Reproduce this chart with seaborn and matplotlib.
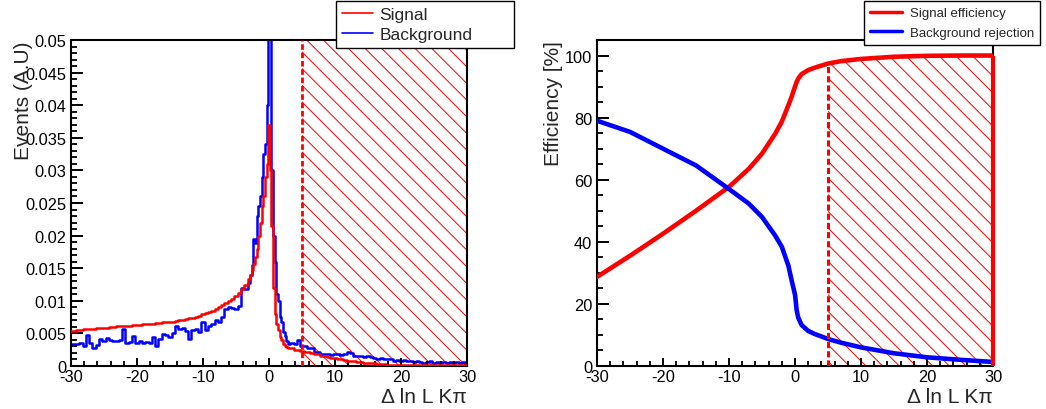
import numpy as np
import seaborn as sns
import matplotlib.pyplot as plt
from matplotlib.ticker import MultipleLocator, FuncFormatter
from matplotlib.lines import Line2D

# histogram bin centres (finer binning around the peak)
dll_bins = np.concatenate([np.arange(-30, -2.9, 0.5),
                           np.arange(-2.75, 2.8, 0.25),
                           np.arange(3, 30.1, 0.5)])

sig_hist = [
    .0054, .0054, .0055, .0055, .0056, .0056, .0057, .0057, .0058, .0058,
    .0059, .0059, .0060, .0060, .0061, .0061, .0062, .0062, .0062, .0063,
    .0063, .0063, .0064, .0064, .0065, .0065, .0066, .0066, .0067, .0067,
    .0068, .0068, .0069, .0070, .0071, .0072, .0073, .0074, .0075, .0077,
    .0079, .0081, .0083, .0085, .0087, .0090, .0093, .0096, .0099, .0103,
    .0107, .0112, .0118, .0125, .0133,
    .0140, .0148, .0157, .0167, .0180, .0200, .0220, .0245, .0260, .0290, .0310,
    .0370,
    .0300, .0215, .0120, .0080, .0065, .0055, .0045, .0040, .0034, .0031, .0029,
    .0028, .0027, .0025, .0024, .0023, .0022, .0021, .0020, .0019, .0018,
    .0016, .0015, .0014, .0013, .0012, .0011, .0010, .0009, .0008, .0008,
    .0007, .0006, .0006, .0005, .0005, .0004, .0004, .0003, .0003, .0003,
    .0002, .0002, .0002, .0002, .0001, .0001, .0001, .0001, .0001, .0001,
    .0001, .0001, .0001, .0001, .0001, .0001, .0001, .0001, .0001, .0001,
    .0001, .0001, .0001, .0001, .0001,
]

bkg_hist = [
    .0033, .0034, .0033, .0035, .0031, .0048, .0036, .0027, .0032, .0041,
    .0039, .0043, .0040, .0038, .0039, .0040, .0056, .0036, .0037, .0046,
    .0036, .0038, .0035, .0037, .0036, .0045, .0031, .0042, .0049, .0048,
    .0045, .0050, .0061, .0057, .0058, .0054, .0041, .0055, .0056, .0052,
    .0068, .0055, .0062, .0064, .0070, .0068, .0075, .0088, .0090, .0089,
    .0087, .0092, .0120, .0118, .0127,
    .0140, .0155, .0195, .0188, .0230, .0245, .0260, .0290, .0325, .0340, .0400,
    .0560,
    .0520, .0300, .0200, .0160, .0110, .0100, .0075, .0068, .0052, .0046, .0038,
    .0034, .0036, .0033, .0040, .0031, .0030, .0028, .0027, .0022, .0021,
    .0019, .0018, .0019, .0017, .0018, .0019, .0017, .0018, .0021, .0020,
    .0016, .0015, .0016, .0014, .0015, .0014, .0012, .0011, .0012, .0010,
    .0011, .0010, .0008, .0009, .0008, .0009, .0007, .0008, .0006, .0007,
    .0006, .0005, .0006, .0007, .0005, .0006, .0005, .0006, .0005, .0006,
    .0005, .0006, .0005, .0006, .0005,
]

eff_x = [-30, -25, -20, -15, -10, -7, -5, -3, -2, -1, -0.5, 0, 0.25, 0.5, 1,
         2, 3, 5, 7, 10, 15, 20, 25, 30]
sig_eff = [28.7, 35.5, 42.6, 50.0, 57.7, 63.5, 68.4, 74.8, 78.7, 84.0, 86.8,
           90.0, 91.5, 92.6, 94.0, 95.3, 96.1, 97.4, 98.2, 98.9, 99.6, 99.9,
           100.0, 100.0]
bkg_rej = [79.0, 75.4, 70.0, 64.6, 57.0, 52.3, 48.0, 42.0, 38.4, 32.3, 27.5,
           23.0, 18.0, 15.5, 13.2, 11.3, 10.3, 8.7, 7.5, 6.0, 4.1, 2.8,
           2.0, 1.3]

cut = 5
xlim = (-30, 30)

sns.set_style("ticks")
plt.rcParams["font.family"] = ["Liberation Sans", "DejaVu Sans"]
plt.rcParams["axes.unicode_minus"] = False
plt.rcParams["axes.axisbelow"] = False
plt.rcParams["hatch.color"] = "red"
plt.rcParams["hatch.linewidth"] = 0.7
plt.rcParams["xtick.direction"] = "in"
plt.rcParams["ytick.direction"] = "in"

W, H = 1046, 410
fig = plt.figure(figsize=(W / 100, H / 100), dpi=100)
ax1 = fig.add_axes([71 / W, 43 / H, 396 / W, 326 / H])
ax2 = fig.add_axes([597 / W, 43 / H, 396 / W, 326 / H])

fmt = FuncFormatter(lambda v, p: "%g" % round(v, 6))


def style_axes(ax, ymajor, yminor):
    ax.set_axisbelow(False)
    ax.set_xlim(*xlim)
    ax.xaxis.set_major_locator(MultipleLocator(10))
    ax.xaxis.set_minor_locator(MultipleLocator(2))
    ax.yaxis.set_major_locator(MultipleLocator(ymajor))
    ax.yaxis.set_minor_locator(MultipleLocator(yminor))
    ax.xaxis.set_major_formatter(fmt)
    ax.yaxis.set_major_formatter(fmt)
    ax.tick_params(which="both", direction="in", bottom=True, left=True,
                   top=False, right=False, color="black", labelcolor="black")
    ax.tick_params(which="major", labelsize=11.8, width=1.4)
    ax.tick_params(axis="x", which="major", length=5.8, pad=2)
    ax.tick_params(axis="x", which="minor", length=3.5, width=1.3)
    ax.tick_params(axis="y", which="major", length=8.6, pad=3.5)
    ax.tick_params(axis="y", which="minor", length=4.3, width=1.3)
    for s in ax.spines.values():
        s.set_visible(True)
        s.set_linewidth(1.5)
        s.set_color("black")
    ax.set_xlabel("Δ ln L Kπ", fontsize=15, loc="right")
    ax.xaxis.set_label_coords(1.0, -0.065)


# ---- left: distributions
ax1.fill_between([cut, xlim[1]], 0, 1, transform=ax1.get_xaxis_transform(),
                 hatch="\\\\", facecolor="none", edgecolor="red", linewidth=0,
                 zorder=1)
sns.lineplot(x=dll_bins, y=sig_hist, drawstyle="steps-mid", color="red",
             lw=1.8, ax=ax1, legend=False, zorder=3)
sns.lineplot(x=dll_bins, y=bkg_hist, drawstyle="steps-mid", color="blue",
             lw=1.8, ax=ax1, legend=False, zorder=2)
ax1.axvline(cut, color="red", lw=2, ls=(0, (2, 1)), zorder=4)
ax1.set_ylim(0, 0.05)
style_axes(ax1, 0.005, 0.001)
ax1.set_ylabel("Events (A.U)", fontsize=15, loc="top")
ax1.yaxis.set_label_coords(-0.095, 1.0)

h1 = [Line2D([], [], color="red", lw=1.2), Line2D([], [], color="blue", lw=1.2)]
leg1 = ax1.legend(h1, ["Signal", "Background"], loc="upper left",
                  bbox_to_anchor=(336 / W, 1 - 48 / H, 178 / W, 46 / H),
                  mode="expand", bbox_transform=fig.transFigure,
                  fontsize=12.5, frameon=True, fancybox=False,
                  edgecolor="black", framealpha=1, handlelength=1.8,
                  handletextpad=0.35, borderpad=0.35, labelspacing=0.25,
                  borderaxespad=0)
leg1.get_frame().set_linewidth(1.0)

# ---- right: efficiency / rejection
eff_x_arr = np.array(eff_x)
sig_eff_arr = np.array(sig_eff)
m = eff_x_arr >= cut
ax2.fill_between(eff_x_arr[m], 0, sig_eff_arr[m], hatch="\\\\",
                 facecolor="none", edgecolor="red", linewidth=0, zorder=1)
sns.lineplot(x=eff_x, y=sig_eff, color="red", lw=3.3, ax=ax2, legend=False,
             zorder=3)
sns.lineplot(x=eff_x, y=bkg_rej, color="blue", lw=3.3, ax=ax2, legend=False,
             zorder=3)
ax2.vlines(cut, 0, np.interp(cut, eff_x, sig_eff), color="red", lw=2.2,
           ls=(0, (2, 1)), zorder=4)
ax2.vlines(eff_x[-1], 0, sig_eff[-1], color="red", lw=3, zorder=4,
           clip_on=False)
ax2.set_ylim(0, 105)
style_axes(ax2, 20, 5)
ax2.set_ylabel("Efficiency [%]", fontsize=15, loc="top")
ax2.yaxis.set_label_coords(-0.086, 1.0)

h2 = [Line2D([], [], color="red", lw=2.5), Line2D([], [], color="blue", lw=2.5)]
leg2 = ax2.legend(h2, ["Signal efficiency", "Background rejection"],
                  loc="upper right", bbox_to_anchor=(1040 / W, 1 - 2 / H),
                  bbox_transform=fig.transFigure, fontsize=9.5, frameon=True,
                  fancybox=False, edgecolor="black", framealpha=1,
                  handlelength=2.4, handletextpad=0.6, borderpad=0.45,
                  labelspacing=0.55, borderaxespad=0)
leg2.get_frame().set_linewidth(1.0)

fig.savefig("out.png", dpi=100)
